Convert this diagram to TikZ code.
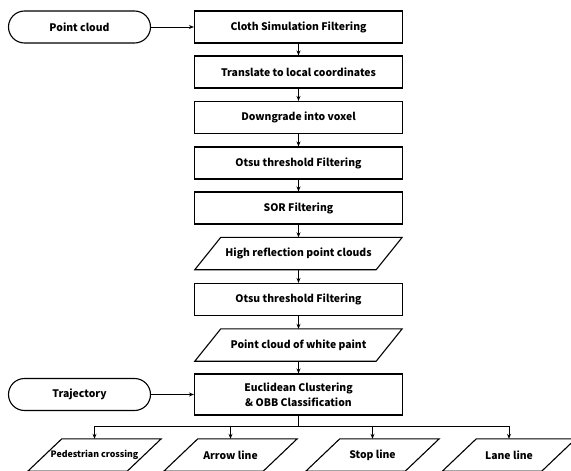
\documentclass[tikz,border=0pt]{standalone}
\usepackage{fontspec}
\setmainfont{Noto Sans CJK SC}
\usetikzlibrary{arrows.meta,calc}
\newcommand\drawpara[2]{\draw[pline] ($(#1.north west)+(#2,0)$) -- ($(#1.north east)+(#2,0)$) -- ($(#1.south east)-(#2,0)$) -- ($(#1.south west)-(#2,0)$) -- cycle;}
\begin{document}
\begin{tikzpicture}[x=1pt,y=-1pt,
  every node/.style={font=\bfseries\fontsize{10.4}{15}\selectfont, inner sep=0pt, align=center},
  box/.style={draw, line width=1.1pt, minimum width=208pt, minimum height=32pt},
  term/.style={draw, line width=1.1pt, rounded corners=16pt, minimum width=142pt, minimum height=32pt},
  pbody/.style={minimum width=#1, minimum height=32pt},
  arr/.style={-{Stealth[length=5pt,width=4pt]}, line width=1pt},
  pline/.style={line width=1.1pt},
  link/.style={line width=1pt}]
\useasboundingbox (0,0) rectangle (571,471);
\fill[white] (0,0) rectangle (571,471);

\node[term] (pc) at (79.5,27) {Point cloud};
\node[box] (csf) at (298.5,27) {Cloth Simulation Filtering};
\node[box] (tl) at (298.5,72) {Translate to local coordinates};
\node[box] (dv) at (298.5,117.5) {Downgrade into voxel};
\node[box] (ot1) at (298.5,163) {Otsu threshold Filtering};
\node[box] (sor) at (298.5,208) {SOR Filtering};
\node[pbody=181pt] (hr) at (298.5,253.5) {High reflection point clouds};
\node[box] (ot2) at (298.5,299.5) {Otsu threshold Filtering};
\node[pbody=181pt] (wp) at (298.5,345) {Point cloud of white paint};
\node[box, minimum height=41pt] (ec) at (298.5,394.5) {Euclidean Clustering\\\& OBB Classification};
\node[term] (tr) at (79.5,394.5) {Trajectory};

\coordinate (br) at (298.5,426);
\node[pbody=99pt] (pd) at (94.5,455) {\fontsize{8.8}{12}\selectfont Pedestrian crossing};
\node[pbody=99pt] (al) at (230.5,455) {Arrow line};
\node[pbody=99pt] (sl) at (372.5,455) {Stop line};
\node[pbody=99pt] (ll) at (509,455) {Lane line};

\drawpara{hr}{13}
\drawpara{wp}{13}
\drawpara{pd}{17}
\drawpara{al}{17}
\drawpara{sl}{17}
\drawpara{ll}{17}

\draw[arr] (pc) -- (csf);
\draw[arr] (csf) -- (tl);
\draw[arr] (tl) -- (dv);
\draw[arr] (dv) -- (ot1);
\draw[arr] (ot1) -- (sor);
\draw[arr] (sor) -- (hr);
\draw[arr] (hr) -- (ot2);
\draw[arr] (ot2) -- (wp);
\draw[arr] (wp) -- (ec);
\draw[arr] (tr) -- (ec);

\draw[link] (ec.south) -- (br);
\draw[link] (pd.north |- br) -- (ll.north |- br);
\draw[arr] (pd.north |- br) -- (pd.north);
\draw[arr] (al.north |- br) -- (al.north);
\draw[arr] (sl.north |- br) -- (sl.north);
\draw[arr] (ll.north |- br) -- (ll.north);
\end{tikzpicture}
\end{document}
